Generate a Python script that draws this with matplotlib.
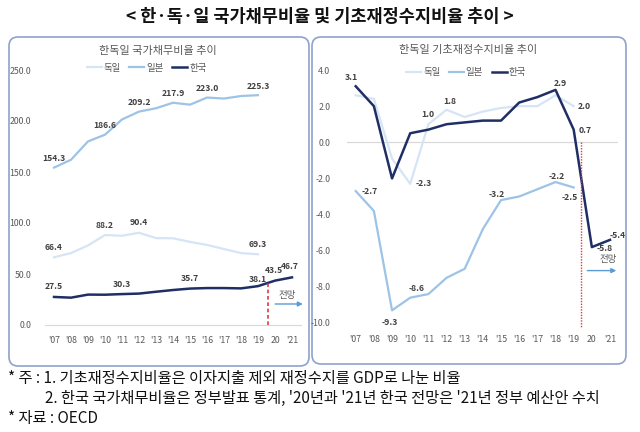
import matplotlib
matplotlib.use("Agg")
import matplotlib.pyplot as plt
from matplotlib.patches import FancyBboxPatch

plt.rcParams['font.family'] = ['Noto Sans CJK KR', 'DejaVu Sans']

# ---------------- data ----------------
years = ["'07", "'08", "'09", "'10", "'11", "'12", "'13", "'14", "'15",
         "'16", "'17", "'18", "'19", "20", "'21"]
series_names = ["독일", "일본", "한국"]

debt_germany = [66.4, 70.5, 78.0, 88.2, 87.5, 90.4, 85.2, 85.0, 81.5, 78.5, 74.5, 70.5, 69.3]
debt_japan = [154.3, 162.0, 180.0, 186.6, 201.5, 209.2, 212.5, 217.9, 216.0, 223.0, 222.0, 224.5, 225.3]
debt_korea = [27.5, 26.8, 29.8, 29.7, 30.3, 30.8, 32.6, 34.3, 35.7, 36.2, 36.2, 35.9, 38.1, 43.5, 46.7]

pb_germany = [2.6, 2.4, -0.9, -2.3, 1.0, 1.8, 1.4, 1.7, 1.9, 2.0, 2.0, 2.6, 2.0]
pb_japan = [-2.7, -3.8, -9.3, -8.6, -8.4, -7.5, -7.0, -4.8, -3.2, -3.0, -2.6, -2.2, -2.5]
pb_korea = [3.1, 2.0, -2.0, 0.5, 0.7, 1.0, 1.1, 1.2, 1.2, 2.2, 2.5, 2.9, 0.7, -5.8, -5.4]

main_title = "< 한·독·일 국가채무비율 및 기초재정수지비율 추이 >"
left_title = "한독일 국가채무비율 추이"
right_title = "한독일 기초재정수지비율 추이"
forecast_label = "전망"
notes = ["* 주 : 1. 기초재정수지비율은 이자지출 제외 재정수지를 GDP로 나눈 비율",
         "2. 한국 국가채무비율은 정부발표 통계, '20년과 '21년 한국 전망은 '21년 정부 예산안 수치",
         "* 자료 : OECD"]

# ---------------- style ----------------
C_DE = '#D5E5F5'
C_JP = '#9DC3E6'
C_KR = '#1F2F66'
TXT = '#595959'
LBL = '#404040'
BORDER = '#8FA2CC'
W, H = 640, 432

fig = plt.figure(figsize=(W / 100, H / 100), dpi=100)

# background overlay in pixel coordinates
bg = fig.add_axes([0, 0, 1, 1])
bg.set_xlim(0, W)
bg.set_ylim(H, 0)
bg.axis('off')
bg.set_zorder(0)
for (x0, y0, x1, y1) in [(9, 37, 309, 366), (312, 37, 626, 364)]:
    bg.add_patch(FancyBboxPatch((x0, y0), x1 - x0, y1 - y0,
                                boxstyle="round,pad=0,rounding_size=9",
                                fc='white', ec=BORDER, lw=1.2))
bg.text(320, 17, main_title, ha='center', va='center', fontsize=12.6,
        fontweight='bold', color='#111111')
bg.text(158, 51, left_title, ha='center', va='center', fontsize=8, color=TXT)
bg.text(468, 50, right_title, ha='center', va='center', fontsize=8, color=TXT)
bg.text(8, 378, notes[0], ha='left', va='center', fontsize=11, color='#111111')
bg.text(45, 398, notes[1], ha='left', va='center', fontsize=11, color='#111111')
bg.text(8, 418, notes[2], ha='left', va='center', fontsize=11, color='#111111')


def px_axes(left, right, top, bottom):
    return fig.add_axes([left / W, (H - bottom) / H, (right - left) / W, (bottom - top) / H])


def style_axes(ax):
    ax.set_facecolor('none')
    ax.set_zorder(1)
    for s in ax.spines.values():
        s.set_visible(False)
    ax.tick_params(length=0, labelsize=6.3, labelcolor=TXT)
    ax.set_xticks(range(len(years)))
    ax.set_xticklabels(years)


def label(ax, x, y, text, dx, dy):
    ax.annotate(text, (x, y), xytext=(dx * 0.72, dy * 0.72), textcoords='offset points',
                ha='center', va='center', fontsize=6.2, color=LBL, fontweight='bold',
                annotation_clip=False, zorder=5)


# ---------------- left chart ----------------
axL = px_axes(45, 301, 70, 325)
style_axes(axL)
axL.set_xlim(-0.53, 14.53)
axL.set_ylim(0, 250)
axL.set_yticks([0, 50, 100, 150, 200, 250])
axL.set_yticklabels([f"{v:.1f}" for v in [0, 50, 100, 150, 200, 250]])
axL.tick_params(axis='y', pad=10)
axL.tick_params(axis='x', pad=8)
axL.spines['bottom'].set_visible(True)
axL.spines['bottom'].set_color('#D9D9D9')

lines = []
lines += axL.plot(range(len(debt_germany)), debt_germany, color=C_DE, lw=1.6, clip_on=False)
lines += axL.plot(range(len(debt_japan)), debt_japan, color=C_JP, lw=1.6, clip_on=False)
lines += axL.plot(range(len(debt_korea)), debt_korea, color=C_KR, lw=1.8, clip_on=False)
axL.legend(lines, series_names, loc='center', bbox_to_anchor=(146.5 / W, 1 - 68 / H),
           bbox_transform=fig.transFigure, ncol=3, frameon=False, fontsize=6.8,
           handlelength=1.6, handletextpad=0.2, columnspacing=0.9, labelcolor=TXT)

for i in [0, 3, 5, 7, 9, 12]:
    label(axL, i, debt_japan[i], f"{debt_japan[i]:.1f}", 0, 9)
for i in [0, 3, 5, 12]:
    label(axL, i, debt_germany[i], f"{debt_germany[i]:.1f}", 0, 10)
for i, dx, dy in [(0, 0, 10), (4, 0, 10), (8, 0, 10), (12, 0, 7), (13, -1, 10), (14, -2, 11)]:
    label(axL, i, debt_korea[i], f"{debt_korea[i]:.1f}", dx, dy)

axL.plot([12.6, 12.6], [0, 41], color='#E0393E', ls=(0, (2.2, 1.6)), lw=1.2, clip_on=False)
axL.annotate('', xy=(14.8, 20.6), xytext=(12.85, 20.6),
             arrowprops=dict(arrowstyle='-|>', color='#5B9BD5', lw=1, mutation_scale=7),
             annotation_clip=False)
axL.text(13.73, 29.4, forecast_label, ha='center', va='center', fontsize=6.8, color=TXT)

# ---------------- right chart ----------------
axR = px_axes(347, 618, 70, 323)
style_axes(axR)
axR.set_xlim(-0.48, 14.44)
axR.set_ylim(-10, 4)
rticks = [4, 2, 0, -2, -4, -6, -8, -10]
axR.set_yticks(rticks)
axR.set_yticklabels([f"{v:.1f}" for v in rticks])
axR.tick_params(axis='y', pad=12)
axR.tick_params(axis='x', pad=9)
axR.axhline(0, color='#D9D9D9', lw=0.9, zorder=0)

rl = []
rl += axR.plot(range(len(pb_germany)), pb_germany, color=C_DE, lw=1.6, clip_on=False)
rl += axR.plot(range(len(pb_japan)), pb_japan, color=C_JP, lw=1.6, clip_on=False)
rl += axR.plot(range(len(pb_korea)), pb_korea, color=C_KR, lw=1.8, clip_on=False)
axR.legend(rl, series_names, loc='center', bbox_to_anchor=(466 / W, 1 - 73 / H),
           bbox_transform=fig.transFigure, ncol=3, frameon=False, fontsize=6.8,
           handlelength=1.6, handletextpad=0.2, columnspacing=0.9, labelcolor=TXT)

for i, dx, dy in [(0, -4, 9), (11, 5, 6), (12, 11, -1), (13, 13, -1), (14, 8, 4)]:
    label(axR, i, pb_korea[i], f"{pb_korea[i]:.1f}", dx, dy)
for i, dx, dy in [(4, -1, 10), (5, 3, 8), (12, 11, 0), (3, 13, 0)]:
    label(axR, i, pb_germany[i], f"{pb_germany[i]:.1f}", dx, dy)
for i, dx, dy in [(0, 14, 0), (2, -2, -12), (3, 6, 9), (8, -4, 6), (11, 1, 6), (12, -4, -10)]:
    label(axR, i, pb_japan[i], f"{pb_japan[i]:.1f}", dx, dy)

axR.plot([12.4, 12.4], [0, -10.3], color='#E0393E', ls=(0, (1, 1)), lw=1.0, clip_on=False)
axR.annotate('', xy=(14.5, -7.1), xytext=(12.6, -7.1),
             arrowprops=dict(arrowstyle='-|>', color='#5B9BD5', lw=1, mutation_scale=7),
             annotation_clip=False)
axR.text(13.9, -6.5, forecast_label, ha='center', va='center', fontsize=6.8, color=TXT)

fig.savefig('out.png', dpi=100)
